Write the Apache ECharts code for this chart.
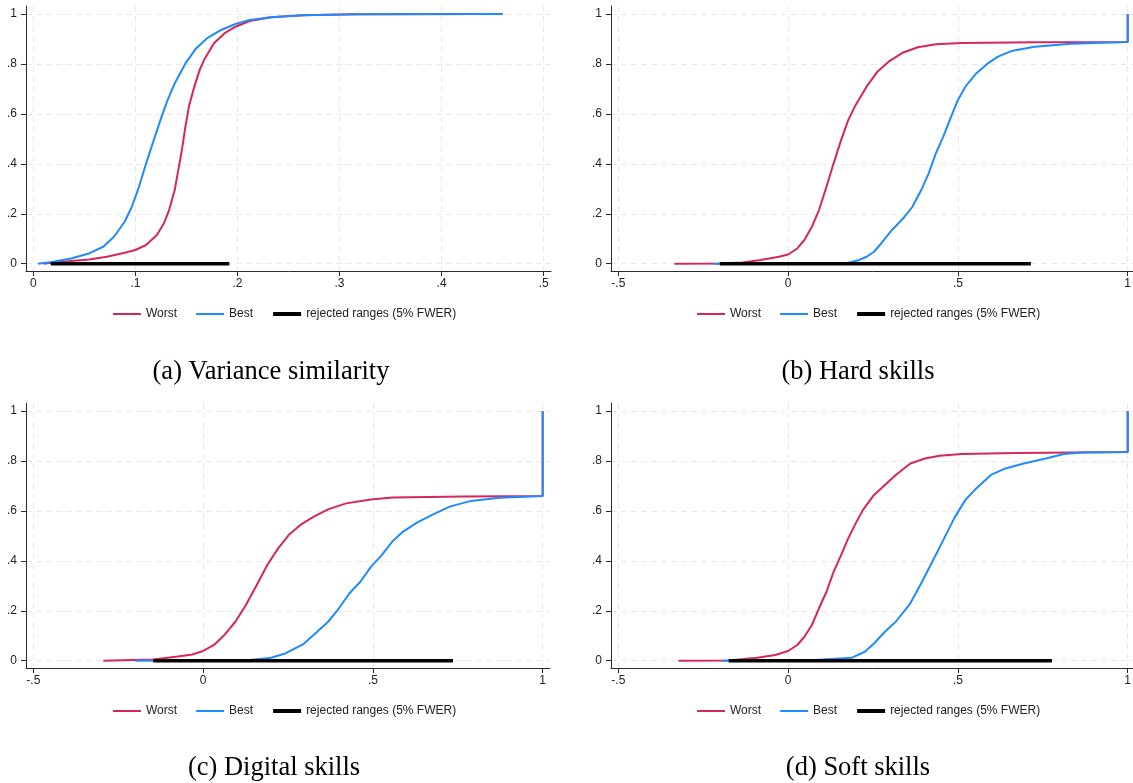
<!DOCTYPE html>
<html>
<head>
<meta charset="utf-8">
<script src="https://cdn.jsdelivr.net/npm/echarts@6/dist/echarts.min.js"></script>
<style>
html,body{margin:0;padding:0;background:#fff;}
#chart{width:1133px;height:783px;}
</style>
</head>
<body>
<div id="chart"></div>
<script>
// ---- Data ----
const seriesNames = ['Worst', 'Best', 'rejected ranges (5% FWER)'];
const captions = ['(a) Variance similarity', '(b) Hard skills', '(c) Digital skills', '(d) Soft skills'];

const xTicksA = [0, 0.1, 0.2, 0.3, 0.4, 0.5];
const xTicksBCD = [-0.5, 0, 0.5, 1];
const yTicks = [0, 0.2, 0.4, 0.6, 0.8, 1];

// (a) Variance similarity
const varWorst = [[0.01,0],[0.018,0.004],[0.037,0.011],[0.0545,0.017],[0.072,0.028],[0.0895,0.044],[0.1,0.055],[0.1105,0.075],[0.121,0.115],[0.128,0.162],[0.133,0.215],[0.1385,0.295],[0.142,0.375],[0.1455,0.455],[0.149,0.549],[0.1524,0.629],[0.1577,0.709],[0.163,0.776],[0.168,0.822],[0.177,0.883],[0.1874,0.923],[0.198,0.949],[0.212,0.972],[0.233,0.987],[0.264,0.995],[0.317,0.999],[0.435,1]];
const varBest = [[0.0045,0],[0.018,0.007],[0.037,0.021],[0.0545,0.041],[0.0685,0.068],[0.079,0.108],[0.0895,0.168],[0.0965,0.228],[0.1035,0.308],[0.1105,0.402],[0.1175,0.489],[0.1245,0.575],[0.1315,0.655],[0.1385,0.722],[0.149,0.802],[0.1594,0.862],[0.17,0.902],[0.184,0.936],[0.198,0.96],[0.212,0.976],[0.233,0.987],[0.264,0.995],[0.317,0.999],[0.46,1]];
const varRejected = [[0.017,0],[0.192,0]];

// (b) Hard skills
const hardWorst = [[-0.335,0],[-0.199,0.001],[-0.134,0.005],[-0.081,0.015],[-0.027,0.028],[0,0.037],[0.027,0.061],[0.048,0.095],[0.07,0.148],[0.091,0.215],[0.113,0.308],[0.134,0.402],[0.156,0.495],[0.177,0.575],[0.199,0.636],[0.231,0.709],[0.263,0.769],[0.296,0.809],[0.339,0.846],[0.382,0.867],[0.435,0.879],[0.511,0.884],[0.726,0.887],[1,0.888],[1,1]];
const hardBest = [[-0.22,0],[0.081,0.001],[0.177,0.004],[0.21,0.015],[0.231,0.028],[0.253,0.048],[0.274,0.081],[0.306,0.135],[0.339,0.182],[0.366,0.228],[0.392,0.295],[0.414,0.362],[0.435,0.442],[0.457,0.509],[0.478,0.582],[0.5,0.656],[0.522,0.709],[0.554,0.762],[0.586,0.8],[0.618,0.829],[0.661,0.853],[0.726,0.869],[0.833,0.881],[1,0.888],[1,1]];
const hardRejected = [[-0.201,0],[0.715,0]];

// (c) Digital skills
const digWorst = [[-0.294,0],[-0.147,0.005],[-0.074,0.017],[-0.032,0.025],[0,0.039],[0.032,0.063],[0.063,0.103],[0.095,0.156],[0.126,0.223],[0.158,0.303],[0.189,0.383],[0.221,0.45],[0.252,0.503],[0.289,0.546],[0.326,0.577],[0.368,0.606],[0.421,0.63],[0.494,0.646],[0.557,0.654],[0.768,0.658],[1,0.66],[1,1]];
const digBest = [[-0.2,0],[0.137,0.003],[0.2,0.012],[0.242,0.029],[0.294,0.065],[0.336,0.116],[0.368,0.156],[0.4,0.21],[0.431,0.27],[0.463,0.316],[0.494,0.376],[0.526,0.423],[0.557,0.477],[0.589,0.517],[0.631,0.554],[0.673,0.583],[0.726,0.617],[0.789,0.64],[0.873,0.653],[1,0.66],[1,1]];
const digRejected = [[-0.147,0],[0.736,0]];

// (d) Soft skills
const softWorst = [[-0.323,0],[-0.177,0.001],[-0.091,0.012],[-0.038,0.023],[0,0.039],[0.027,0.063],[0.048,0.096],[0.07,0.143],[0.091,0.21],[0.113,0.276],[0.134,0.356],[0.156,0.423],[0.177,0.49],[0.199,0.55],[0.22,0.603],[0.253,0.664],[0.285,0.704],[0.317,0.744],[0.36,0.79],[0.403,0.81],[0.446,0.821],[0.511,0.828],[0.672,0.832],[1,0.836],[1,1]];
const softBest = [[-0.194,0],[0.081,0.003],[0.188,0.012],[0.226,0.036],[0.253,0.069],[0.285,0.116],[0.317,0.156],[0.36,0.23],[0.392,0.31],[0.425,0.397],[0.457,0.483],[0.489,0.57],[0.522,0.644],[0.554,0.69],[0.597,0.744],[0.64,0.77],[0.694,0.79],[0.759,0.81],[0.812,0.828],[0.866,0.834],[1,0.836],[1,1]];
const softRejected = [[-0.175,0],[0.777,0]];

// ---- Layout / styling ----
const RED = '#D6275C';
const BLUE = '#1F8BFF';
const BLACK = '#000000';
const LABEL_FONT = 'Liberation Sans, Arial, sans-serif';

const worstList = [varWorst, hardWorst, digWorst, softWorst];
const bestList = [varBest, hardBest, digBest, softBest];
const rejList = [varRejected, hardRejected, digRejected, softRejected];

const gridBoxes = [
  {left: 26, top: 6, width: 525, height: 265},
  {left: 611, top: 6, width: 524, height: 265},
  {left: 26, top: 403, width: 524, height: 265},
  {left: 611, top: 403, width: 524, height: 265}
];
const xRanges = [[-0.0072, 0.5072], [-0.5215, 1.0215], [-0.5215, 1.0215], [-0.5215, 1.0215]];
const yRange = [-0.0292, 1.032];
const legendPos = [{left: 107, top: 303}, {left: 691, top: 303}, {left: 107, top: 700}, {left: 691, top: 700}];
const captionPos = [[271, 372], [858, 372], [274, 768], [858, 768]];

function fmt(v) {
  if (Math.abs(v) < 1e-9) return '0';
  let s = String(Math.round(v * 1000) / 1000);
  return s.replace(/^(-?)0\./, '$1.');
}

const grids = [], xAxes = [], yAxes = [], series = [], legends = [], graphics = [];
for (let i = 0; i < 4; i++) {
  grids.push(Object.assign({containLabel: false, outerBoundsMode: 'none'}, gridBoxes[i]));
  const xt = i === 0 ? xTicksA : xTicksBCD;
  xAxes.push({
    type: 'value', gridIndex: i, min: xRanges[i][0], max: xRanges[i][1],
    axisLine: {show: true, onZero: false, lineStyle: {color: '#2b2b2b', width: 1}},
    axisTick: {show: true, length: 5, customValues: xt, lineStyle: {color: '#2b2b2b'}},
    axisLabel: {customValues: xt, formatter: fmt, margin: 7, fontSize: 12, color: '#222', fontFamily: LABEL_FONT},
    splitLine: {show: true, lineStyle: {color: '#e9e9e9', type: [6, 4], width: 1}}
  });
  yAxes.push({
    type: 'value', gridIndex: i, min: yRange[0], max: yRange[1],
    axisLine: {show: true, onZero: false, lineStyle: {color: '#2b2b2b', width: 1}},
    axisTick: {show: true, length: 5, customValues: yTicks, lineStyle: {color: '#2b2b2b'}},
    axisLabel: {customValues: yTicks, formatter: fmt, margin: 9, fontSize: 12, color: '#222', fontFamily: LABEL_FONT},
    splitLine: {show: true, lineStyle: {color: '#e9e9e9', type: [6, 4], width: 1}}
  });
  const common = {type: 'line', xAxisIndex: i, yAxisIndex: i, symbol: 'none', showSymbol: false, silent: true, animation: false};
  series.push(Object.assign({}, common, {name: seriesNames[0], data: worstList[i], lineStyle: {color: RED, width: 2}, itemStyle: {color: RED}, z: 2}));
  series.push(Object.assign({}, common, {name: seriesNames[1], data: bestList[i], lineStyle: {color: BLUE, width: 2}, itemStyle: {color: BLUE}, z: 3}));
  series.push(Object.assign({}, common, {name: seriesNames[2], data: rejList[i], lineStyle: {color: BLACK, width: 3.5}, itemStyle: {color: BLACK}, z: 4}));
  legends.push({
    left: legendPos[i].left, top: legendPos[i].top, orient: 'horizontal',
    data: [
      {name: seriesNames[0], lineStyle: {width: 2}},
      {name: seriesNames[1], lineStyle: {width: 2}},
      {name: seriesNames[2], lineStyle: {width: 4}}
    ],
    itemWidth: 28, itemHeight: 14, itemGap: 18,
    selectedMode: false,
    itemStyle: {opacity: 0, borderWidth: 0},
    textStyle: {fontSize: 12, color: '#222', fontFamily: LABEL_FONT}
  });
  graphics.push({
    type: 'text', x: captionPos[i][0], y: captionPos[i][1],
    style: {text: captions[i], fill: '#000', fontSize: 26.5, fontFamily: 'Liberation Serif, Times New Roman, serif', align: 'center', verticalAlign: 'middle'}
  });
}

const chart = echarts.init(document.getElementById('chart'), null, {renderer: 'canvas'});
chart.setOption({
  backgroundColor: '#fff',
  animation: false,
  grid: grids,
  xAxis: xAxes,
  yAxis: yAxes,
  legend: legends,
  series: series,
  graphic: graphics
});
</script>
</body>
</html>
